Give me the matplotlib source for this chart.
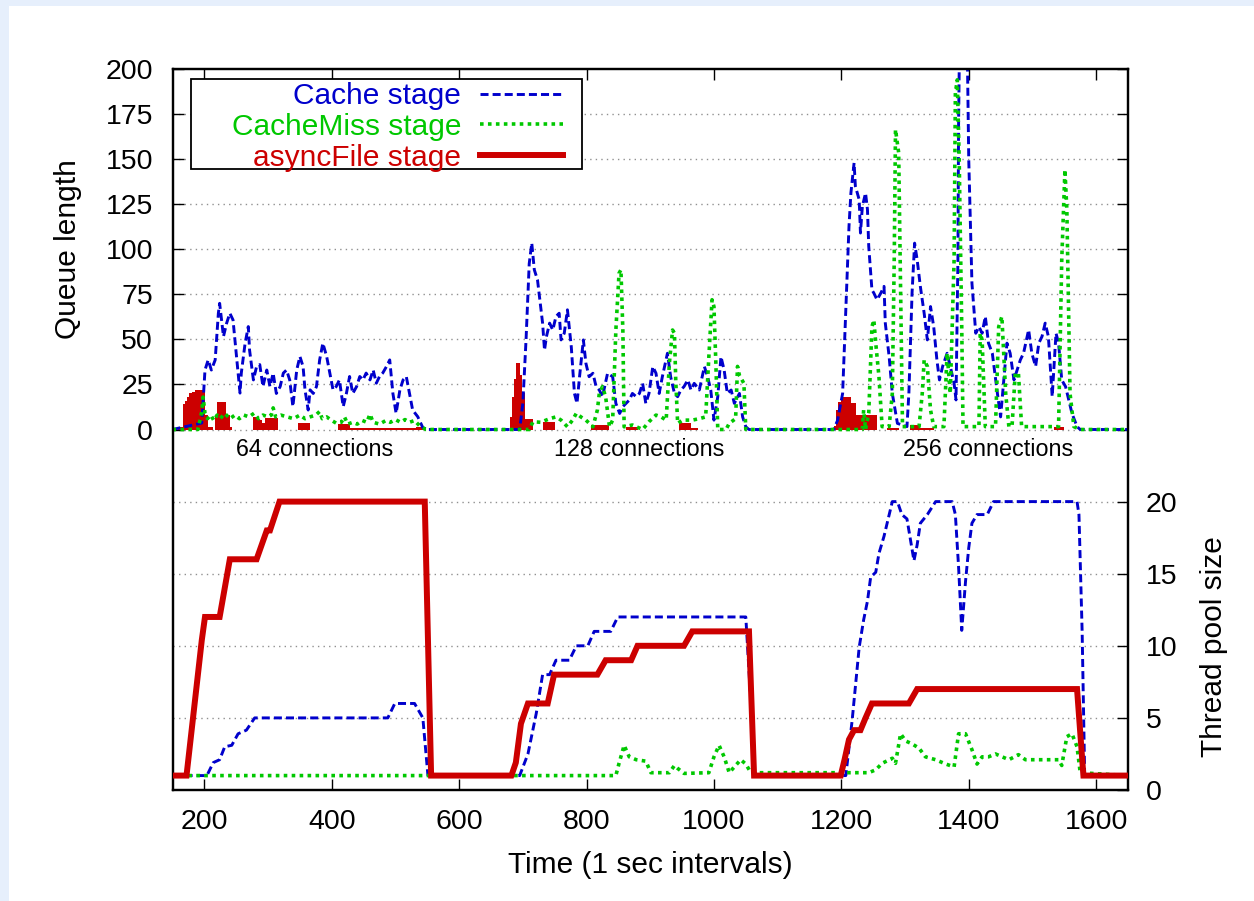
import numpy as np
import matplotlib
matplotlib.use("Agg")
import matplotlib.pyplot as plt
from matplotlib.lines import Line2D
from matplotlib.patches import Rectangle

# ---- queue length (left axis) as (time, value) ----
cache_queue_64 = [(150, 0), (196, 3.6), (201, 33), (206, 38.6), (211, 33), (217, 38.6), (222, 64.5),
                  (224, 70), (230, 51.6), (235, 59), (240, 64.5), (245, 60.8), (250, 42.4), (256, 20.2),
                  (258, 31.3), (264, 47.9), (269, 57.1), (271, 44), (277, 27.5), (282, 34.9), (287, 36),
                  (292, 23.8), (298, 33), (303, 23.8), (308, 31.3), (313, 20), (319, 23.8), (324, 31.3),
                  (329, 33), (334, 27.5), (339, 12.7), (345, 33), (350, 40.5), (355, 34.9), (358, 22),
                  (363, 10.8), (366, 22), (371, 20), (376, 23.8), (381, 38.6), (386, 47.9), (392, 40.5),
                  (397, 31.3), (402, 22), (407, 23.8), (412, 27.5), (418, 12.7), (423, 20), (428, 29.4),
                  (433, 20), (439, 23.8), (444, 29.4), (449, 27.5), (454, 31.3), (460, 27.5), (465, 33),
                  (470, 25.7), (475, 29.4), (480, 31.3), (486, 35), (491, 38.6), (496, 20), (501, 9),
                  (507, 22), (512, 27.5), (517, 29.4), (522, 20), (527, 10.8), (535, 7.1), (543, 1), (549, 0)]
cache_queue_128 = [(695, 0), (700, 14.5), (705, 49.7), (710, 92), (714, 103.4), (718, 88.6), (723, 83),
                   (726, 73.8), (731, 59), (734, 44), (737, 51.5), (742, 59), (747, 55.2), (752, 62.7),
                   (757, 64.5), (760, 49.7), (765, 53.4), (770, 66.4), (776, 46), (781, 20), (785, 14.5),
                   (789, 29.3), (795, 49.7), (799, 36.7), (804, 29.3), (810, 31.2), (815, 23.8), (820, 21.9),
                   (825, 18.2), (833, 31.2), (841, 29.3), (846, 14.5), (852, 8.9), (857, 12.7), (862, 14.5),
                   (867, 16.3), (872, 20), (878, 18.2), (883, 20), (888, 25.6), (893, 14.5), (898, 20),
                   (904, 34.9), (909, 31.2), (914, 20), (919, 29.3), (927, 42.3), (932, 29.3), (938, 20),
                   (943, 18.2), (948, 21.9), (953, 23.8), (959, 27.5), (964, 21.9), (969, 25.6), (977, 21.9),
                   (985, 34.9), (990, 29.3), (995, 21.9), (1000, 5.2), (1006, 18.2), (1011, 40.4), (1016, 33),
                   (1021, 20), (1027, 21.9), (1032, 14.5), (1040, 20), (1045, 7), (1050, 1.5), (1055, 0)]
cache_queue_256 = [(1188, 0), (1194, 5), (1202, 20), (1207, 66.4), (1212, 112.7), (1215, 131.2), (1220, 147.9),
                   (1222, 135), (1228, 127.5), (1230, 109), (1233, 123.8), (1238, 131.2), (1241, 122),
                   (1243, 101.6), (1248, 77.5), (1251, 75.7), (1256, 72), (1262, 75.7), (1267, 79.4), (1269, 59),
                   (1275, 40.5), (1280, 20), (1288, 3.4), (1303, 1.6), (1306, 20), (1311, 75.7), (1315, 103.4),
                   (1319, 94.2), (1324, 79.4), (1330, 64.5), (1335, 49.7), (1340, 68.2), (1345, 57), (1350, 38.6),
                   (1354, 27.5), (1359, 35), (1366, 42.3), (1371, 35), (1377, 25.6), (1380, 16.4), (1383, 94.2),
                   (1384, 168), (1386, 230), (1397, 230), (1400, 149.7), (1405, 81.2), (1411, 53.4), (1416, 57),
                   (1421, 53.4), (1426, 62.7), (1431, 47.9), (1437, 42.3), (1445, 20), (1450, 7), (1455, 27.5),
                   (1460, 47.9), (1465, 42.3), (1471, 27.5), (1476, 33), (1481, 38.6), (1486, 42.3), (1494, 55.3),
                   (1499, 42.3), (1505, 35), (1510, 47.9), (1515, 51.6), (1520, 59), (1525, 51.6), (1531, 18.3),
                   (1537, 53.4), (1541, 47.9), (1546, 27.5), (1552, 23.8), (1557, 16.4), (1562, 9), (1570, 1.6),
                   (1575, 0), (1650, 0)]

miss_queue_64 = [(150, 0), (190, 0), (196, 10), (198, 18), (201, 9), (205, 6), (210, 8), (215, 5), (220, 8),
                 (225, 6), (232, 9), (240, 6), (248, 8), (255, 6), (262, 8), (270, 7), (278, 9), (285, 6),
                 (292, 8), (300, 7), (305, 8), (308, 12), (312, 7), (320, 8), (330, 7), (340, 6), (350, 8),
                 (358, 6), (366, 7), (375, 8), (381, 10), (385, 6), (392, 7), (400, 5), (407, 3.5), (415, 4),
                 (420, 7), (425, 3), (433, 4), (440, 3), (448, 5), (455, 4), (460, 8.5), (465, 4), (475, 3),
                 (485, 5), (492, 4), (500, 5.5), (508, 4), (515, 5.5), (522, 4), (530, 5), (538, 2), (548, 0)]
miss_queue_128 = [(679, 0), (710, 0), (716, 4.3), (728, 4), (742, 6), (752, 7), (760, 5.2), (770, 1.5),
                  (778, 5.2), (784, 9), (791, 7), (799, 5.2), (810, 1.5), (817, 10.8), (820, 20), (825, 23.8),
                  (830, 18), (836, 1.5), (841, 5.2), (846, 55), (851, 86.7), (854, 88.6), (857, 55), (859, 1.5),
                  (872, 2.5), (888, 0), (898, 4.3), (909, 8), (917, 7), (925, 5.2), (930, 36.7), (935, 55.2),
                  (938, 53.4), (940, 27.5), (943, 3.4), (951, 5.2), (966, 5.2), (977, 6), (987, 7), (992, 40.4),
                  (997, 72), (1000, 68.2), (1003, 36.7), (1006, 0), (1019, 0), (1024, 3.4), (1034, 6),
                  (1037, 35), (1040, 30), (1047, 25.6), (1050, 0)]
miss_queue_256 = [(1188, 0), (1233, 0), (1235, 10.8), (1238, 0), (1243, 9), (1248, 57), (1251, 60.8),
                  (1254, 47.9), (1259, 29.4), (1264, 1.6), (1275, 1.6), (1280, 20), (1283, 94.2), (1285, 166.4),
                  (1290, 153.5), (1293, 75.7), (1296, 1.6), (1322, 1.6), (1327, 20), (1330, 38.6), (1335, 35),
                  (1340, 10.8), (1345, 1.6), (1361, 1.6), (1366, 42.3), (1371, 20), (1377, 94.2), (1379, 186.8),
                  (1382, 194), (1385, 149.7), (1389, 57), (1391, 1.6), (1416, 1.6), (1418, 53.4), (1421, 49.7),
                  (1426, 1.6), (1442, 1.6), (1447, 57), (1452, 62.7), (1458, 20), (1463, 1.6), (1468, 2),
                  (1473, 31.2), (1478, 31.2), (1483, 1.6), (1541, 1.6), (1546, 94.2), (1551, 144.2),
                  (1554, 122), (1559, 20), (1565, 1.6), (1575, 0), (1650, 0)]

# asyncFile queue is drawn as filled steps
file_queue = [(150, 0), (159, 1.5), (166, 14), (169, 16), (172, 18), (176, 20), (181, 21), (186, 22),
              (201, 8), (205, 1.5), (214, 0), (216, 8), (220, 15.5), (234, 8), (240, 1.5), (243, 0),
              (276, 7), (285, 5.5), (290, 3.4), (295, 6.2), (316, 0), (347, 3.4), (366, 0), (410, 3),
              (428, 1), (490, 0.8), (533, 1.5), (548, 0),
              (680, 7), (683, 18), (686, 28), (689, 37), (696, 30), (699, 20), (703, 6), (716, 0),
              (731, 4.3), (750, 0), (807, 2.5), (836, 0), (862, 1.5), (880, 0), (945, 3.4), (964, 1), (975, 0),
              (1188, 2), (1192, 11), (1195, 15.5), (1200, 18.3), (1215, 14.5), (1223, 8), (1256, 0),
              (1272, 1), (1290, 0), (1307, 2.5), (1324, 0.8), (1345, 0), (1534, 1.5), (1550, 0), (1650, 0)]

# ---- thread pool size (right axis) ----
cache_threads = [(150, 1), (204, 1), (214, 1.9), (224, 2.1), (232, 3), (243, 3.1), (253, 3.9), (266, 4.15),
                 (279, 5), (488, 5), (499, 6), (530, 6), (543, 5), (551, 1),
                 (695, 1), (708, 2.5), (721, 5.3), (731, 8), (742, 8), (752, 9), (773, 9), (784, 10),
                 (802, 10), (812, 11), (838, 11), (849, 12), (1050, 12), (1058, 6), (1063, 1),
                 (1207, 1), (1217, 4.85), (1228, 9.9), (1235, 11.8), (1241, 13.1), (1246, 14.76), (1254, 15.1),
                 (1259, 16.4), (1267, 17.6), (1280, 20), (1288, 20), (1295, 19.1), (1303, 18.8), (1314, 15.9),
                 (1319, 17), (1324, 18.5), (1335, 19.1), (1348, 20), (1374, 20), (1379, 19.1), (1384, 15.5),
                 (1389, 11.07), (1395, 14.5), (1400, 16.8), (1405, 18.5), (1413, 19.1), (1429, 19.1),
                 (1439, 20), (1570, 20), (1573, 19.1), (1578, 11), (1582, 1), (1650, 1)]
miss_threads = [(150, 1), (846, 1), (851, 1.85), (859, 3.1), (867, 2.3), (878, 2.1), (893, 2), (901, 1.2),
                (930, 1.2), (938, 1.7), (943, 1.5), (953, 1.15), (992, 1.2), (1000, 2.3), (1008, 3.1),
                (1016, 2.3), (1024, 1.2), (1032, 1.6), (1042, 2.1), (1050, 1.8), (1058, 1.2), (1243, 1.2),
                (1254, 1.4), (1264, 1.85), (1280, 2.2), (1285, 1.85), (1293, 3.9), (1301, 3.4), (1311, 3.2),
                (1322, 2.9), (1332, 2.3), (1348, 2.1), (1364, 1.8), (1377, 1.6), (1384, 3.9), (1395, 3.9),
                (1405, 2.8), (1413, 1.8), (1421, 2.3), (1431, 2.3), (1442, 2.5), (1463, 2.1), (1478, 2.45),
                (1489, 2.1), (1541, 2.1), (1546, 1.7), (1554, 3.7), (1562, 3.9), (1570, 3), (1575, 1.2),
                (1650, 1)]
file_threads = [(150, 1), (172, 1), (196, 10.4), (201, 12), (224, 12), (240, 16), (282, 16), (298, 18),
                (303, 18), (318, 20), (546, 20), (556, 1),
                (682, 1), (689, 1.9), (697, 4.6), (708, 6), (739, 6), (749, 8), (817, 8), (830, 9), (870, 9),
                (880, 10), (953, 10), (966, 11), (1055, 11), (1063, 1),
                (1199, 1), (1205, 2.1), (1212, 3.5), (1220, 4.15), (1230, 4.15), (1238, 5), (1248, 6),
                (1306, 6), (1319, 7), (1570, 7), (1580, 1), (1650, 1)]

phase_labels = ["64 connections", "128 connections", "256 connections"]
phase_label_x = [373, 883, 1431]

BLUE, GREEN, RED = "#0000cc", "#00c800", "#cc0000"
FONT = "Liberation Sans"
plt.rcParams["font.family"] = [FONT, "DejaVu Sans"]


def xy(*parts):
    arr = np.array([p for part in parts for p in part], dtype=float)
    return arr[:, 0], arr[:, 1]


W, H = 1254, 901
fig = plt.figure(figsize=(W / 100, H / 100), dpi=100, facecolor="#e6effc")
fig.add_artist(Rectangle((9 / W, 0), 1 - 9 / W, 1 - 6 / H, transform=fig.transFigure,
                         facecolor="white", edgecolor="none", zorder=-10))

ax = fig.add_axes([172.5 / W, 1 - 790 / H, (1128 - 172.5) / W, (790 - 69) / H])
ax2 = ax.twinx()
ax.set_xlim(150, 1650)
ax.set_ylim(-200, 200)
ax2.set_ylim(0, 50)

# grid (only where each scale lives)
for g in range(0, 200, 25):
    ax.axhline(g, color="#909090", lw=1.0, ls=(0, (1, 3)), zorder=0.5)
for g in range(5, 25, 5):
    ax2.axhline(g, color="#909090", lw=1.0, ls=(0, (1, 3)), zorder=0.5)

blue_kw = dict(color=BLUE, lw=2.1, dashes=(2.75, 1.4))
green_kw = dict(color=GREEN, lw=2.6, dashes=(1, 1.2))

# queue lengths
x, y = xy(file_queue)
ax.fill_between(x, 0, y, step="post", color=RED, lw=0, zorder=2)
x, y = xy(cache_queue_64, cache_queue_128, cache_queue_256)
ax.plot(x, y, zorder=3, **blue_kw)
x, y = xy(miss_queue_64, miss_queue_128, miss_queue_256)
ax.plot(x, y, zorder=4, **green_kw)

# thread pools
x, y = xy(cache_threads)
ax2.plot(x, y, zorder=3, **blue_kw)
x, y = xy(miss_threads)
ax2.plot(x, y, zorder=4, **green_kw)
x, y = xy(file_threads)
ax2.plot(x, y, color=RED, lw=4.3, zorder=5, solid_joinstyle="miter")

for lab, lx in zip(phase_labels, phase_label_x):
    ax.text(lx, -11, lab, ha="center", va="center", fontsize=16.8)

FS = 20.5
LFS = 21.5
ax.set_xticks(range(200, 1601, 200))
ax.set_yticks(range(0, 201, 25))
ax2.set_yticks(range(0, 21, 5))
ax.tick_params(axis="x", direction="in", top=True, length=8, width=1, labelsize=FS, pad=14)
ax.tick_params(axis="y", direction="in", left=True, right=True, length=8, width=1, labelsize=FS, pad=14)
ax2.tick_params(axis="y", direction="in", length=8, width=1, labelsize=FS, pad=13)
for a in (ax, ax2):
    for s in a.spines.values():
        s.set_linewidth(1.6)

fig.text(650 / W, 1 - 865 / H, "Time (1 sec intervals)", ha="center", va="center", fontsize=LFS)
fig.text(68 / W, 1 - 249 / H, "Queue length", ha="center", va="center", rotation=90, fontsize=LFS)
fig.text(1214 / W, 1 - 647 / H, "Thread pool size", ha="center", va="center", rotation=90, fontsize=LFS)

# legend box drawn in figure pixels
def fx(px):
    return px / W


def fy(py):
    return 1 - py / H


fig.add_artist(Rectangle((fx(190.7), fy(169)), fx(582) - fx(190.7), fy(79) - fy(169),
                         transform=fig.transFigure, facecolor="white", edgecolor="black", lw=1.3, zorder=6))
legend_rows = [("Cache stage", BLUE, blue_kw, 104.5, 93.5),
               ("CacheMiss stage", GREEN, green_kw, 135, 124),
               ("asyncFile stage", RED, dict(color=RED, lw=4.3), 165.5, 155)]
for text, col, kw, base, ly in legend_rows:
    fig.text(fx(461), fy(base), text, color=col, ha="right", va="baseline", fontsize=LFS, zorder=7)
    fig.add_artist(Line2D([fx(480), fx(563)], [fy(ly), fy(ly)], transform=fig.transFigure, zorder=7, **kw))

fig.savefig("out.png", dpi=100, facecolor=fig.get_facecolor())
